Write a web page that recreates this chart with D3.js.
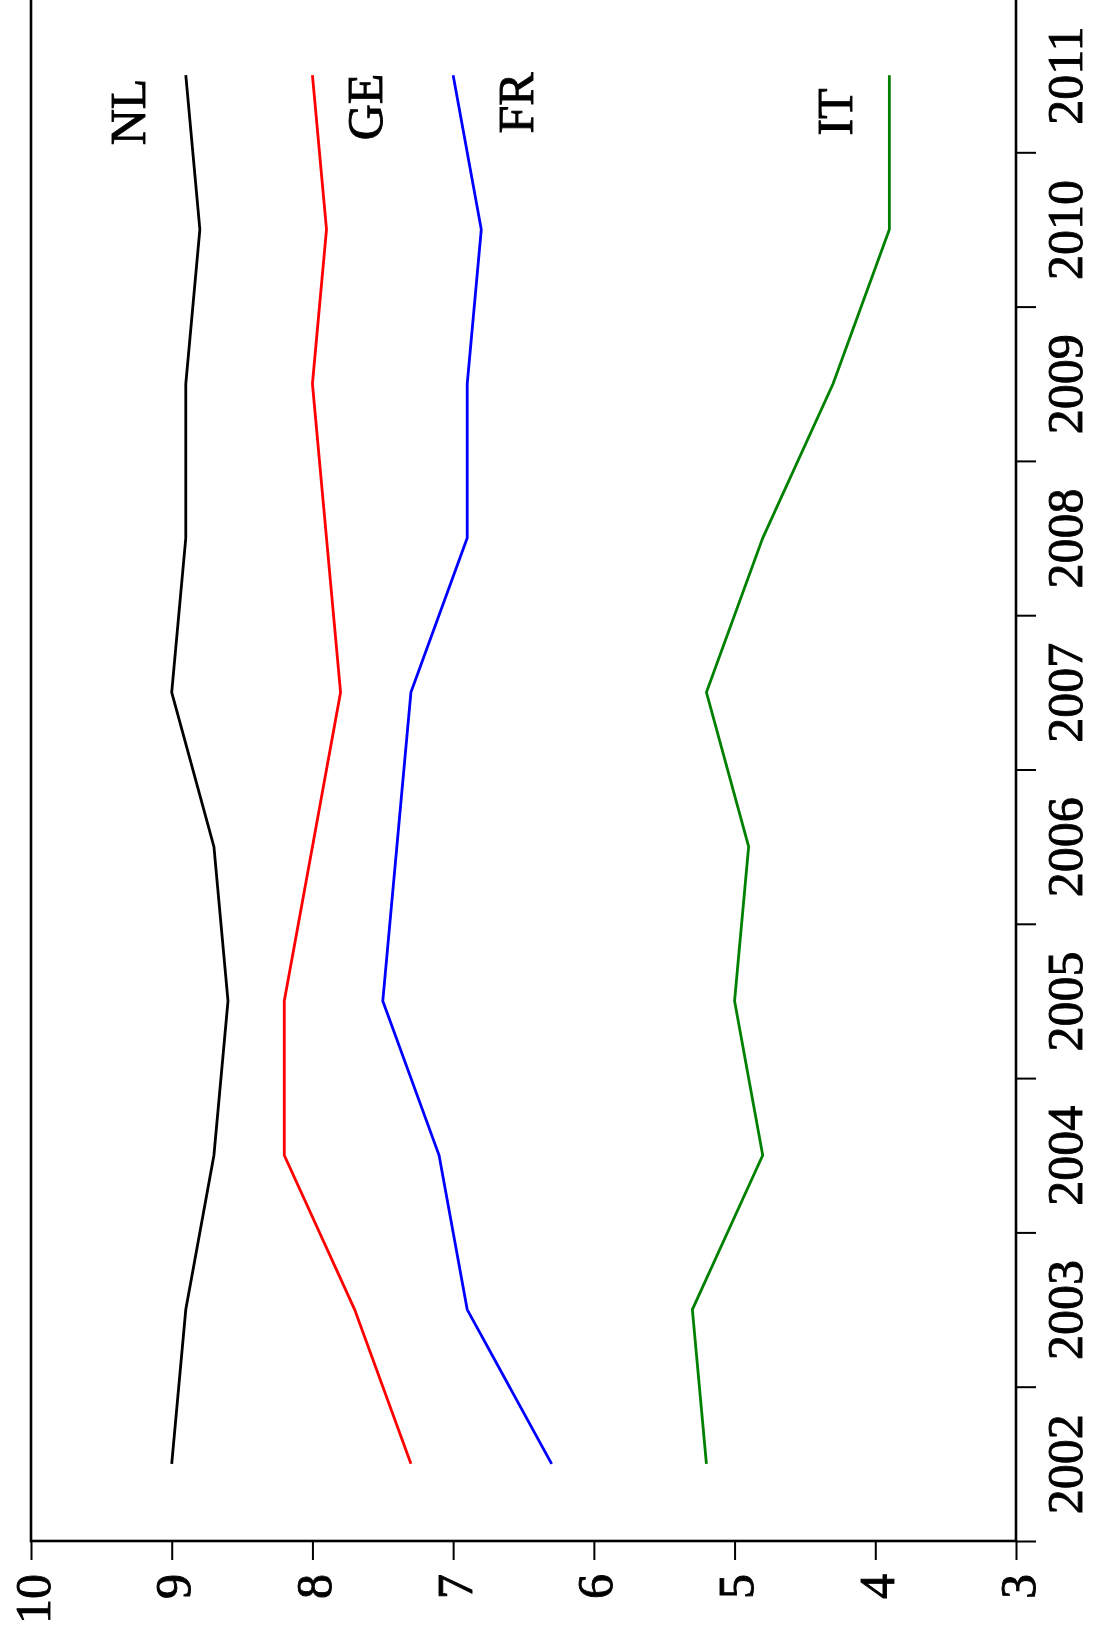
<!DOCTYPE html>
<html>
<head>
<meta charset="utf-8">
<script src="https://cdn.jsdelivr.net/npm/d3@7"></script>
<style>
  body { margin: 0; background: #fff; }
  text { font-family: "Liberation Serif", "Times New Roman", serif; fill: #000; stroke: #000; stroke-width: 0.9px; }
</style>
</head>
<body>
<div id="chart"></div>
<script>
const years = [2002, 2003, 2004, 2005, 2006, 2007, 2008, 2009, 2010, 2011];
const nl = [9.0, 8.9, 8.7, 8.6, 8.7, 9.0, 8.9, 8.9, 8.8, 8.9];
const ge = [7.3, 7.7, 8.2, 8.2, 8.0, 7.8, 7.9, 8.0, 7.9, 8.0];
const fr = [6.3, 6.9, 7.1, 7.5, 7.4, 7.3, 6.9, 6.9, 6.8, 7.0];
const it = [5.2, 5.3, 4.8, 5.0, 4.9, 5.2, 4.8, 4.3, 3.9, 3.9];
const seriesNames = ["NL", "GE", "FR", "IT"];
const valueTicks = [10, 9, 8, 7, 6, 5, 4, 3];

const width = 1093, height = 1632;
const plotLeft = 31, plotRight = 1016, plotTop = -2, plotBottom = 1541;
const serif = "'Liberation Serif', 'Times New Roman', serif";

const svg = d3.select("#chart").append("svg")
    .attr("width", width)
    .attr("height", height)
    .attr("font-family", serif);

// page is turned: values run left to right, years bottom to top
const x = d3.scaleLinear().domain([10, 3]).range([plotLeft, plotRight]);
const y = d3.scaleLinear().domain([years[0] - 0.5, years[years.length - 1] + 0.5]).range([plotBottom, plotTop]);

const series = [
    { name: seriesNames[0], values: nl, color: "#000000", lx: 145, ly: 112 },
    { name: seriesNames[1], values: ge, color: "#ff0000", lx: 382, ly: 107 },
    { name: seriesNames[2], values: fr, color: "#0000ff", lx: 533, ly: 103 },
    { name: seriesNames[3], values: it, color: "#008000", lx: 852, ly: 112 }
];

const line = d3.line()
    .x(d => x(d.v))
    .y(d => y(d.year));

svg.selectAll("path.series")
    .data(series)
    .enter()
    .append("path")
    .attr("class", "series")
    .attr("d", s => line(s.values.map((v, i) => ({ year: years[i], v: v }))))
    .attr("fill", "none")
    .attr("stroke", s => s.color)
    .attr("stroke-width", 2.8);

// frame
svg.append("rect")
    .attr("x", plotLeft)
    .attr("y", plotTop)
    .attr("width", plotRight - plotLeft)
    .attr("height", plotBottom - plotTop)
    .attr("fill", "none")
    .attr("stroke", "#000")
    .attr("stroke-width", 2.6);

// value axis along the bottom
const valueAxis = svg.append("g")
    .attr("transform", `translate(0, ${plotBottom})`)
    .call(d3.axisBottom(x).tickValues(valueTicks).tickSize(19).tickFormat(d3.format("d")))
    .attr("font-family", null)
    .attr("font-size", null);
valueAxis.select(".domain").remove();
valueAxis.selectAll(".tick line").attr("stroke", "#000").attr("stroke-width", 2);
valueAxis.selectAll(".tick text")
    .attr("class", "ticklabel")
    .attr("fill", "#000")
    .style("font-family", serif)
    .style("font-size", "50px")
    .attr("text-anchor", "end")
    .attr("dy", null)
    .attr("y", null)
    .attr("transform", "translate(18, 33) rotate(-90)");

// year axis on the right: ticks at the band edges, labels in the middle
const edges = years.map(d => d - 0.5).concat([years[years.length - 1] + 0.5]);
const edgeAxis = svg.append("g")
    .attr("transform", `translate(${plotRight}, 0)`)
    .call(d3.axisRight(y).tickValues(edges).tickSize(20).tickFormat(""));
edgeAxis.select(".domain").remove();
edgeAxis.selectAll(".tick line").attr("stroke", "#000").attr("stroke-width", 2);

const yearAxis = svg.append("g")
    .attr("transform", `translate(${plotRight}, 0)`)
    .call(d3.axisRight(y).tickValues(years).tickSize(0).tickFormat(d3.format("d")))
    .attr("font-family", null)
    .attr("font-size", null);
yearAxis.select(".domain").remove();
yearAxis.selectAll(".tick text")
    .attr("class", "ticklabel")
    .attr("fill", "#000")
    .style("font-family", serif)
    .style("font-size", "50px")
    .attr("text-anchor", "middle")
    .attr("dy", null)
    .attr("x", null)
    .attr("transform", "translate(66, 0) rotate(-90)");

// series names
svg.selectAll("text.label")
    .data(series)
    .enter()
    .append("text")
    .attr("class", "label")
    .attr("transform", s => `translate(${s.lx}, ${s.ly}) rotate(-90)`)
    .attr("text-anchor", "middle")
    .style("font-family", serif)
    .style("font-size", "50px")
    .text(s => s.name);
</script>
</body>
</html>
